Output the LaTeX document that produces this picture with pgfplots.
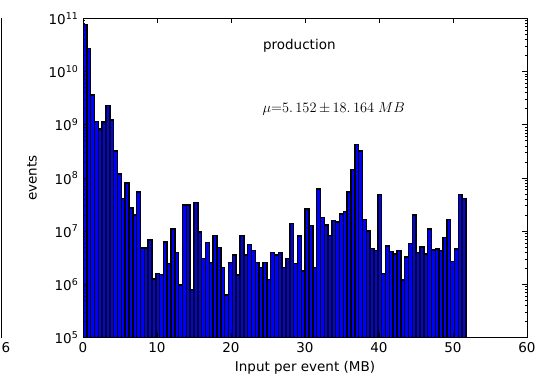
\documentclass[border=0pt]{standalone}
\usepackage[no-math]{fontspec}
\setmainfont{DejaVu Sans}
\usepackage{pgfplots}
\usepackage{pgfplotstable}
\pgfplotsset{compat=1.18}
\pgfplotstableread{
x y
0 7.7e10
0.5175 2.7e10
1.035 3.6e9
1.5525 1.15e9
2.07 8.3e8
2.5875 1.12e9
3.105 2.3e9
3.6225 1.23e9
4.14 3.2e8
4.6575 1.19e8
5.175 4.1e7
5.6925 8e7
6.21 2.75e7
6.7275 2.0e7
7.245 5.4e7
7.7625 4.8e6
8.28 4.8e6
8.7975 6.8e6
9.315 1.26e6
9.8325 1.6e6
10.35 1.55e6
10.8675 6.3e6
11.385 2.5e6
11.9025 1.1e7
12.42 4.0e6
12.9375 9.8e5
13.455 3.1e7
13.9725 3.1e7
14.49 8.1e5
15.0075 3.45e7
15.525 9.6e6
16.0425 3.1e6
16.56 6.1e6
17.0775 2.6e6
17.595 8.3e6
18.1125 5.0e6
18.63 2.1e6
19.1475 6.3e5
19.665 2.6e6
20.1825 3.6e6
20.7 1.5e6
21.2175 8.3e6
21.735 3.6e6
22.2525 5.6e6
22.77 4.3e6
23.2875 2.6e6
23.805 2.1e6
24.3225 2.6e6
24.84 1.24e6
25.3575 4.0e6
25.875 3.6e6
26.3925 4.0e6
26.91 2.1e6
27.4275 3.1e6
27.945 1.4e7
28.4625 2.5e6
28.98 8.1e6
29.4975 1.8e6
30.015 2.6e7
30.5325 1.27e7
31.05 2.1e6
31.5675 6.2e7
32.085 1.8e7
32.6025 1.3e7
33.12 8.3e6
33.6375 1.6e7
34.155 1.48e7
34.6725 2.1e7
35.19 2.35e7
35.7075 5.5e7
36.225 1.45e8
36.7425 4.3e8
37.26 3.2e8
37.7775 1.65e7
38.295 1.0e7
38.8125 4.7e6
39.33 4.3e6
39.8475 4.9e7
40.365 1.6e6
40.8825 5.3e6
41.4 4.2e6
41.9175 3.7e6
42.435 4.3e6
42.9525 1.22e6
43.47 3.3e6
43.9875 5.9e6
44.505 2.0e7
45.0225 4.0e6
45.54 5.1e6
46.0575 3.7e6
46.575 1.1e7
47.0925 4.4e6
47.61 4.6e6
48.1275 4.3e6
48.645 7.6e6
49.1625 1.66e7
49.68 2.7e6
50.1975 4.6e6
50.715 4.9e7
51.2325 4.1e7
51.75 4.1e7
}\histdata
\begin{document}
\fontsize{13.5}{16}\selectfont
\begin{tikzpicture}
\begin{axis}[
  name=ax, at={(0pt,0pt)}, anchor=south west,
  scale only axis, width=444pt, height=319.4pt,
  xmin=0, xmax=60, ymin=1e5, ymax=1e11, ymode=log, log basis y=10,
  xtick={0,10,20,30,40,50,60},
  ytick={1e5,1e6,1e7,1e8,1e9,1e10,1e11},
  yticklabels={10\textsuperscript{5},10\textsuperscript{6},10\textsuperscript{7},10\textsuperscript{8},10\textsuperscript{9},10\textsuperscript{10},10\textsuperscript{11}},
  minor ytick={2e5,3e5,4e5,5e5,6e5,7e5,8e5,9e5,2e6,3e6,4e6,5e6,6e6,7e6,8e6,9e6,2e7,3e7,4e7,5e7,6e7,7e7,8e7,9e7,2e8,3e8,4e8,5e8,6e8,7e8,8e8,9e8,2e9,3e9,4e9,5e9,6e9,7e9,8e9,9e9,2e10,3e10,4e10,5e10,6e10,7e10,8e10,9e10},
  /pgf/number format/assume math mode=true,
  axis line style={line width=0.9pt, black},
  every tick/.style={black, line width=0.8pt},
  major tick length=4.8pt, minor tick length=2.4pt,
  tick align=inside,
  tick label style={font=\fontsize{13.5}{16}\selectfont},
  label style={font=\fontsize{13.5}{16}\selectfont},
  xlabel={Input per event (MB)}, ylabel={events},
  x label style={at={(axis description cs:0.5,-0.0949)}, anchor=center},
  y label style={at={(axis description cs:-0.115,0.5)}, anchor=center},
  axis on top,
]
\addplot[ybar interval, fill=blue, draw=none] table[x=x, y=y] {\histdata};
\addplot[ybar interval, fill=none, draw=black, line width=1.5pt] table[x=x, y=y] {\histdata};
\node[anchor=base west, font=\fontsize{13.5}{16}\selectfont] at (rel axis cs:0.395,0.9008) {production};
\node[anchor=base west, font=\fontsize{13.5}{16}\selectfont] at (rel axis cs:0.394,0.7066) {$\mu{=}5.\,152\,{\pm}\,18.\,164\;MB$};
\end{axis}
\draw[line width=0.9pt] (-82pt,0pt) -- (-82pt,319.4pt);
\node[font=\fontsize{13.5}{16}\selectfont, anchor=center] at (-77pt,-9.5pt) {6};
\pgfresetboundingbox
\path (-83pt,-39.3pt) rectangle (457pt,337.7pt);
\end{tikzpicture}
\end{document}
